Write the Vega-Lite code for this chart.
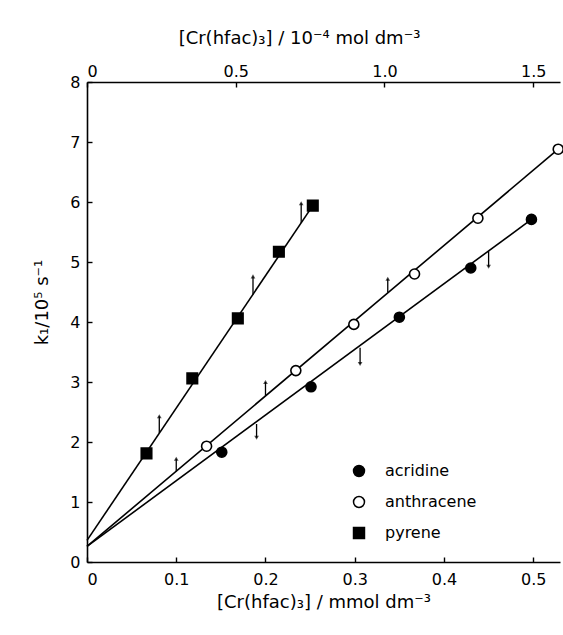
{
  "$schema": "https://vega.github.io/schema/vega-lite/v6.json",
  "width": 473,
  "height": 480,
  "autosize": {"type": "none"},
  "padding": {"left": 87, "top": 82, "right": 3, "bottom": 73},
  "background": "white",
  "config": {
    "view": {"stroke": null},
    "font": "DejaVu Sans",
    "axis": {
      "domainColor": "black",
      "domainWidth": 1.6,
      "tickColor": "black",
      "tickWidth": 1.4,
      "tickSize": -5,
      "labelPadding": 12,
      "labelColor": "black",
      "labelFont": "DejaVu Sans",
      "labelFontSize": 16,
      "titleFont": "DejaVu Sans",
      "titleFontSize": 18,
      "titleFontWeight": "normal",
      "titleColor": "black",
      "grid": false
    },
    "legend": {
      "orient": "none",
      "legendX": 264,
      "legendY": 381,
      "padding": 0,
      "labelFont": "DejaVu Sans",
      "labelFontSize": 16,
      "labelColor": "black",
      "symbolSize": 120,
      "symbolStrokeWidth": 1.5,
      "rowPadding": 13,
      "labelOffset": 18
    }
  },
  "datasets": {
    "points": [
      {"series": "acridine", "c": 0.151, "k": 1.83},
      {"series": "acridine", "c": 0.251, "k": 2.92},
      {"series": "acridine", "c": 0.35, "k": 4.08},
      {"series": "acridine", "c": 0.43, "k": 4.9},
      {"series": "acridine", "c": 0.498, "k": 5.71},
      {"series": "anthracene", "c": 0.134, "k": 1.93},
      {"series": "anthracene", "c": 0.234, "k": 3.19},
      {"series": "anthracene", "c": 0.299, "k": 3.96},
      {"series": "anthracene", "c": 0.367, "k": 4.8},
      {"series": "anthracene", "c": 0.438, "k": 5.73},
      {"series": "anthracene", "c": 0.528, "k": 6.88}
    ],
    "fits": [
      {"series": "acridine", "c": 0, "k": 0.26},
      {"series": "acridine", "c": 0.498, "k": 5.71},
      {"series": "anthracene", "c": 0, "k": 0.26},
      {"series": "anthracene", "c": 0.528, "k": 6.88}
    ],
    "arrows": [
      {"series": "acridine", "dir": "down", "c": 0.19, "k0": 2.3, "k1": 2.07},
      {"series": "acridine", "dir": "down", "c": 0.306, "k0": 3.57, "k1": 3.3},
      {"series": "acridine", "dir": "down", "c": 0.45, "k0": 5.18, "k1": 4.92},
      {"series": "anthracene", "dir": "up", "c": 0.1, "k0": 1.51, "k1": 1.72},
      {"series": "anthracene", "dir": "up", "c": 0.2, "k0": 2.77, "k1": 3.0},
      {"series": "anthracene", "dir": "up", "c": 0.337, "k0": 4.49, "k1": 4.72}
    ],
    "pyrene": [
      {"series": "pyrene", "c": 0.2, "k": 1.81},
      {"series": "pyrene", "c": 0.354, "k": 3.06},
      {"series": "pyrene", "c": 0.507, "k": 4.06},
      {"series": "pyrene", "c": 0.645, "k": 5.17},
      {"series": "pyrene", "c": 0.759, "k": 5.94}
    ],
    "pyreneFit": [
      {"series": "pyrene", "c": 0, "k": 0.36},
      {"series": "pyrene", "c": 0.759, "k": 5.94}
    ],
    "pyreneArrows": [
      {"series": "pyrene", "dir": "up", "c": 0.243, "k0": 2.15, "k1": 2.43},
      {"series": "pyrene", "dir": "up", "c": 0.558, "k0": 4.46, "k1": 4.76},
      {"series": "pyrene", "dir": "up", "c": 0.72, "k0": 5.65, "k1": 5.98}
    ]
  },
  "layer": [
    {
      "encoding": {
        "x": {
          "field": "c", "type": "quantitative",
          "scale": {"domain": [0, 0.53], "nice": false, "zero": false},
          "axis": {
            "orient": "bottom",
            "values": [0, 0.1, 0.2, 0.3, 0.4, 0.5],
            "labelExpr": "datum.value == 0 ? '0' : format(datum.value, '.1f')",
            "labelPadding": 14,
            "title": "[Cr(hfac)₃] / mmol dm⁻³",
            "titlePadding": 6
          }
        },
        "y": {
          "field": "k", "type": "quantitative",
          "scale": {"domain": [0, 8], "nice": false, "zero": false},
          "axis": {
            "values": [0, 1, 2, 3, 4, 5, 6, 7, 8],
            "format": "d",
            "title": "k₁/10⁵ s⁻¹",
            "titlePadding": 18,
            "titleY": 220
          }
        }
      },
      "layer": [
        {
          "data": {"name": "fits"},
          "mark": {"type": "line", "color": "black", "strokeWidth": 1.6},
          "encoding": {"detail": {"field": "series"}}
        },
        {
          "data": {"name": "arrows"},
          "mark": {"type": "rule", "color": "black", "strokeWidth": 1.3},
          "encoding": {"y2": {"field": "k1"}, "y": {"field": "k0", "type": "quantitative"}}
        },
        {
          "data": {"name": "arrows"},
          "transform": [{"filter": "datum.dir == 'up'"}],
          "mark": {"type": "point", "shape": "triangle-up", "filled": true, "color": "black", "size": 22},
          "encoding": {"y": {"field": "k1", "type": "quantitative"}}
        },
        {
          "data": {"name": "arrows"},
          "transform": [{"filter": "datum.dir == 'down'"}],
          "mark": {"type": "point", "shape": "triangle-down", "filled": true, "color": "black", "size": 22},
          "encoding": {"y": {"field": "k1", "type": "quantitative"}}
        },
        {
          "data": {"name": "points"},
          "mark": {"type": "point", "filled": true, "strokeWidth": 1.6, "size": 100, "opacity": 1},
          "encoding": {
            "shape": {"field": "series", "type": "nominal", "scale": {"domain": ["acridine", "anthracene", "pyrene"], "range": ["circle", "circle", "square"]}, "legend": {"title": null}},
            "fill": {"field": "series", "type": "nominal", "scale": {"domain": ["acridine", "anthracene", "pyrene"], "range": ["black", "white", "black"]}, "legend": {"title": null}},
            "stroke": {"field": "series", "type": "nominal", "scale": {"domain": ["acridine", "anthracene", "pyrene"], "range": ["black", "black", "black"]}, "legend": {"title": null}}
          }
        }
      ]
    },
    {
      "encoding": {
        "x": {
          "field": "c", "type": "quantitative",
          "scale": {"domain": [0, 1.59], "nice": false, "zero": false},
          "axis": {
            "orient": "top",
            "values": [0, 0.5, 1, 1.5],
            "labelExpr": "datum.value == 0 ? '0' : format(datum.value, '.1f')",
            "labelPadding": 8,
            "title": "[Cr(hfac)₃] / 10⁻⁴ mol dm⁻³",
            "titlePadding": 16,
            "titleX": 212
          }
        },
        "y": {"field": "k", "type": "quantitative", "scale": {"domain": [0, 8], "nice": false, "zero": false}}
      },
      "layer": [
        {
          "data": {"name": "pyreneFit"},
          "mark": {"type": "line", "color": "black", "strokeWidth": 1.6},
          "encoding": {"detail": {"field": "series"}}
        },
        {
          "data": {"name": "pyreneArrows"},
          "mark": {"type": "rule", "color": "black", "strokeWidth": 1.3},
          "encoding": {"y": {"field": "k0", "type": "quantitative"}, "y2": {"field": "k1"}}
        },
        {
          "data": {"name": "pyreneArrows"},
          "mark": {"type": "point", "shape": "triangle-up", "filled": true, "color": "black", "size": 22},
          "encoding": {"y": {"field": "k1", "type": "quantitative"}}
        },
        {
          "data": {"name": "pyrene"},
          "mark": {"type": "point", "filled": true, "strokeWidth": 1.6, "size": 110, "opacity": 1},
          "encoding": {
            "shape": {"field": "series", "type": "nominal", "scale": {"domain": ["acridine", "anthracene", "pyrene"], "range": ["circle", "circle", "square"]}, "legend": {"title": null}},
            "fill": {"field": "series", "type": "nominal", "scale": {"domain": ["acridine", "anthracene", "pyrene"], "range": ["black", "white", "black"]}, "legend": {"title": null}},
            "stroke": {"field": "series", "type": "nominal", "scale": {"domain": ["acridine", "anthracene", "pyrene"], "range": ["black", "black", "black"]}, "legend": {"title": null}}
          }
        }
      ]
    }
  ],
  "resolve": {"scale": {"x": "independent"}, "axis": {"x": "independent"}}
}
